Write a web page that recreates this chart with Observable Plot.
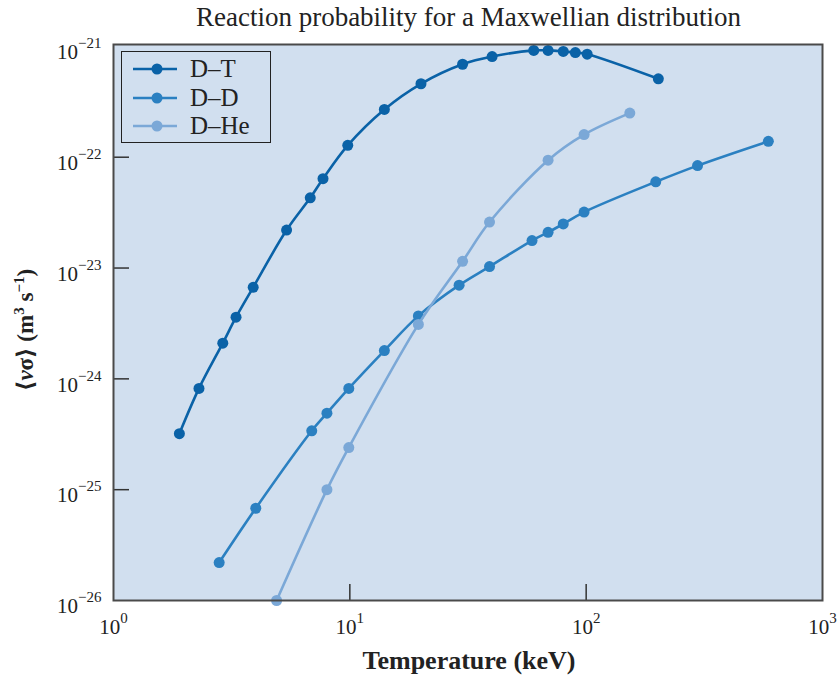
<!DOCTYPE html>
<html><head><meta charset="utf-8">
<script src="https://cdn.jsdelivr.net/npm/d3@7"></script>
<script src="https://cdn.jsdelivr.net/npm/@observablehq/plot@0.6"></script>
<style>
body{margin:0;background:#fff;}
#wrap{position:relative;width:840px;height:681px;font-family:"Liberation Serif","DejaVu Serif",serif;color:#222;overflow:hidden;}
#chart svg{display:block;}
#title{position:absolute;left:113px;top:1px;width:711px;text-align:center;font-size:27px;line-height:32px;white-space:nowrap;}
#legend{position:absolute;left:121px;top:51px;width:150px;height:92px;border:1.5px solid #222;box-sizing:border-box;}
.lrow{position:absolute;left:0;height:28px;line-height:28px;font-size:25px;}
.lrow svg{position:absolute;left:10px;top:4px;}
.lrow span{position:absolute;left:68px;top:0;white-space:nowrap;}
#ylab{position:absolute;left:25px;top:330px;transform:translate(-50%,-50%) rotate(-90deg);white-space:nowrap;font-weight:bold;font-size:23px;}
#ylab sup{font-size:15px;vertical-align:9px;line-height:0;}
#xlab{position:absolute;left:469px;top:646px;transform:translateX(-50%);white-space:nowrap;font-weight:bold;font-size:26px;line-height:30px;}
</style></head>
<body>
<div id="wrap">
  <div id="chart"></div>
  <div id="title">Reaction probability for a Maxwellian distribution</div>
  <div id="legend"></div>
  <div id="ylab">⟨<i>v</i>σ⟩ (m<sup>3</sup> s<sup>−1</sup>)</div>
  <div id="xlab">Temperature (keV)</div>
</div>
<script>
// ---- data ----
const series = ["D–T", "D–D", "D–He"];
const colors = ["#0a62a7", "#2b80c1", "#7ba8d7"];

const dtT = [1.9, 2.3, 2.9, 3.3, 3.9, 5.4, 6.8, 7.7, 9.8, 14, 20, 30, 40, 60, 69, 80, 90, 101, 202];
const dtV = [3.2e-25, 8.2e-25, 2.1e-24, 3.6e-24, 6.7e-24, 2.2e-23, 4.3e-23, 6.4e-23, 1.28e-22, 2.7e-22, 4.6e-22, 6.9e-22, 8.1e-22, 9.2e-22, 9.2e-22, 9.0e-22, 8.8e-22, 8.5e-22, 5.1e-22];

const ddT = [2.8, 4.0, 6.9, 8.0, 9.9, 14, 19.5, 29, 39, 59, 69, 80, 98, 197, 296, 590];
const ddV = [2.2e-26, 6.8e-26, 3.4e-25, 4.9e-25, 8.2e-25, 1.8e-24, 3.7e-24, 7.0e-24, 1.03e-23, 1.77e-23, 2.1e-23, 2.5e-23, 3.2e-23, 6.0e-23, 8.4e-23, 1.39e-22];

const dheT = [4.9, 8.0, 9.9, 19.5, 30, 39, 69, 98, 153];
const dheV = [1.0e-26, 1.0e-25, 2.4e-25, 3.1e-24, 1.15e-23, 2.6e-23, 9.4e-23, 1.6e-22, 2.5e-22];

const xTicks = [1, 10, 100, 1000];
const yTicks = [1e-26, 1e-25, 1e-24, 1e-23, 1e-22, 1e-21];

// ---- build table ----
const Ts = [dtT, ddT, dheT], Vs = [dtV, ddV, dheV];
const rows = [];
series.forEach((s, i) => Ts[i].forEach((t, j) => rows.push({s, t, v: Vs[i][j]})));

const fmtExp = d => "10^" + String(Math.round(Math.log10(d))).replace("-", "−");

const lineMarks = [];
series.forEach((s, i) => {
  const d = rows.filter(r => r.s === s);
  lineMarks.push(Plot.line(d, {x: "t", y: "v", stroke: colors[i], strokeWidth: 2.6, curve: "catmull-rom", clip: false}));
  lineMarks.push(Plot.dot(d, {x: "t", y: "v", fill: colors[i], r: 5.5, clip: false}));
});

const W = 840, H = 681, mL = 113, mR = 18, mT = 44, mB = 81;
const plot = Plot.plot({
  width: W, height: H,
  marginLeft: mL, marginRight: mR, marginTop: mT, marginBottom: mB,
  x: {type: "log", domain: [1, 1000]},
  y: {type: "log", domain: [1e-26, 1.04e-21]},
  style: {fontFamily: "'Liberation Serif', 'DejaVu Serif', serif", fontSize: "21px", color: "#222", background: "transparent", overflow: "visible"},
  marks: [
    Plot.frame({fill: "#d1dfef"}),
    Plot.ruleY(yTicks.slice(1, -1), {stroke: "#333", strokeWidth: 1.5, insetRight: (W - mL - mR) - 16}),
    Plot.ruleX(xTicks.slice(1, -1), {stroke: "#333", strokeWidth: 1.5, insetTop: (H - mT - mB) - 16}),
    ...lineMarks,
    Plot.frame({stroke: "#4a4a4a", strokeWidth: 2}),
    Plot.axisX({ticks: xTicks, tickFormat: fmtExp, tickSize: 0, tickPadding: 19, label: null}),
    Plot.axisY({ticks: yTicks, tickFormat: fmtExp, tickSize: 0, tickPadding: 12, dy: 6, label: null})
  ]
});

// superscript exponents in tick labels
const ns = "http://www.w3.org/2000/svg";
plot.querySelectorAll("text").forEach(t => {
  const s = t.textContent;
  if (!s.includes("^")) return;
  const [b, e] = s.split("^");
  t.textContent = "";
  const a = document.createElementNS(ns, "tspan"); a.textContent = b;
  const p = document.createElementNS(ns, "tspan"); p.textContent = e;
  p.setAttribute("font-size", "15px"); p.setAttribute("dy", "-11");
  t.append(a, p);
});
document.getElementById("chart").append(plot);

// legend
const lg = d3.select("#legend");
series.forEach((s, i) => {
  const row = lg.append("div").attr("class", "lrow").style("top", (3 + i * 28.7) + "px");
  const sv = row.append("svg").attr("width", 48).attr("height", 20);
  sv.append("line").attr("x1", 1).attr("x2", 45).attr("y1", 10).attr("y2", 10).attr("stroke", colors[i]).attr("stroke-width", 2.6);
  sv.append("circle").attr("cx", 25).attr("cy", 10).attr("r", 5.5).attr("fill", colors[i]);
  row.append("span").text(s);
});
</script>
</body></html>
